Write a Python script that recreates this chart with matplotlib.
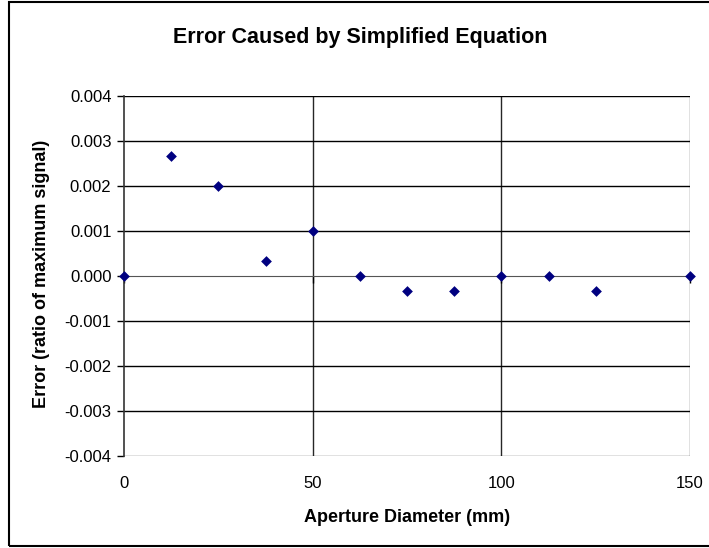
import matplotlib.pyplot as plt
from matplotlib.patches import Rectangle

plt.rcParams['font.family'] = ['Liberation Sans', 'DejaVu Sans']

# Data
diameter = [0, 12.5, 25, 37.5, 50, 62.5, 75, 87.5, 100, 112.5, 125, 150]
error = [0.0, 0.00267, 0.002, 0.00033, 0.001, 0.0, -0.00033, -0.00033,
         0.0, 0.0, -0.00033, 0.0]
x_ticks = [0, 50, 100, 150]
y_ticks = [-0.004, -0.003, -0.002, -0.001, 0.0, 0.001, 0.002, 0.003, 0.004]

fig = plt.figure(figsize=(7.09, 5.48), dpi=100)
ax = fig.add_axes([124 / 709, 1 - 456 / 548, 566 / 709, 360 / 548])

# outer chart border
fig.patches.append(Rectangle((9 / 709, 2 / 548), 1.0, 544 / 548, transform=fig.transFigure,
                             fill=False, edgecolor='black', linewidth=1.5))

ax.set_xlim(0, 150)
ax.set_ylim(-0.004, 0.004)

# gridlines
for yv in y_ticks:
    if yv == 0.0:
        continue
    ax.axhline(yv, color='black', linewidth=1, zorder=1,
               alpha=0.6 if yv == -0.004 else 1)
for xv in x_ticks[1:]:
    ax.axvline(xv, color='black', linewidth=1, zorder=1,
               alpha=0.6 if xv == 150 else 0.85)

ax.scatter(diameter, error, marker='D', s=30, color='#000080', zorder=3,
           clip_on=False, linewidths=0)

for side in ['top', 'right']:
    ax.spines[side].set_visible(False)
ax.spines['bottom'].set_position(('data', 0))
ax.spines['bottom'].set_color('#555555')
ax.spines['left'].set_color('#333333')
ax.spines['left'].set_linewidth(1.2)

ax.set_xticks(x_ticks)
ax.set_yticks(y_ticks)
ax.set_yticklabels(['%.3f' % v for v in y_ticks])
ax.tick_params(axis='both', labelsize=12, direction='out', length=5, width=1)
ax.tick_params(axis='y', pad=4)
ax.tick_params(axis='x', labelbottom=False)
for xv in x_ticks:
    ax.text(xv, -0.055, str(xv), ha='center', va='top', fontsize=12,
            transform=ax.get_xaxis_transform())

fig.text(407 / 709, 1 - 522 / 548, 'Aperture Diameter (mm)', ha='center',
         va='baseline', fontsize=13, fontweight='bold')
fig.text(42 / 709, 1 - 274 / 548, 'Error (ratio of maximum signal)', ha='center',
         va='center', rotation=90, fontsize=13, fontweight='bold')
fig.text(360 / 709, 1 - 38 / 548, 'Error Caused by Simplified Equation', ha='center',
         va='center', fontsize=15.5, fontweight='bold')

plt.savefig('out.png', dpi=100)
